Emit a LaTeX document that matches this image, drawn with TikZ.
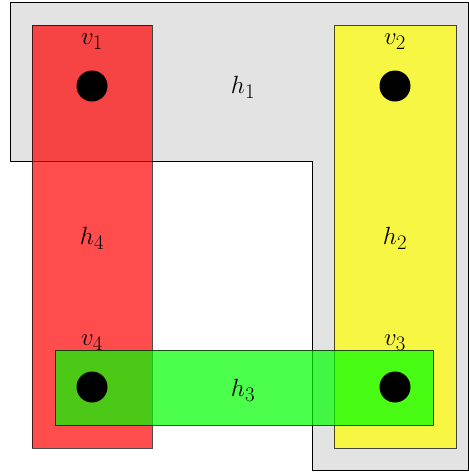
\documentclass[tikz,border=0pt]{standalone}
\usetikzlibrary{positioning}
\definecolor{hOne}{RGB}{227,227,227}
\definecolor{hTwo}{RGB}{255,255,0}
\definecolor{hThree}{RGB}{0,255,0}
\definecolor{hFour}{RGB}{255,0,0}
\tikzset{
  hedge/.style ={draw=black, fill=#1, opacity=0.7, line width=0.8pt},
  vtx/.style   ={circle, fill=black, minimum size=31pt, inner sep=0pt},
  vlab/.style  ={font=\fontsize{32}{38}\selectfont, inner sep=0pt},
  hlab/.style  ={font=\fontsize{32}{38}\selectfont, inner sep=0pt},
}
\begin{document}
\begin{tikzpicture}[x=1pt, y=-1pt, node distance=21pt]
\useasboundingbox (0,0) rectangle (469,472);
% hyperedges
\draw[fill=hOne, line width=0.8pt] (10,2) -- (468,2) -- (468,470) -- (312,470)
   -- (312,161) -- (10,161) -- cycle;
\draw[hedge=hFour]  (32,25)  rectangle (152,448);
\draw[hedge=hTwo]   (334,25) rectangle (456,448);
\draw[hedge=hThree] (55,350) rectangle (433,425);
% vertices
\node[vtx] (v1) at (92,86)   {};
\node[vtx] (v2) at (395,86)  {};
\node[vtx] (v3) at (395,387) {};
\node[vtx] (v4) at (92,387)  {};
\node[vlab, above=of v1] (l1) {$v_1$};
\node[vlab, above=of v2] (l2) {$v_2$};
\node[vlab, above=of v3] (l3) {$v_3$};
\node[vlab, above=of v4] (l4) {$v_4$};
\node[hlab] (h1) at (243,87)  {$h_1$};
\node[hlab] (h2) at (395,238) {$h_2$};
\node[hlab] (h3) at (243,390) {$h_3$};
\node[hlab] (h4) at (92,238)  {$h_4$};
\end{tikzpicture}
\end{document}
